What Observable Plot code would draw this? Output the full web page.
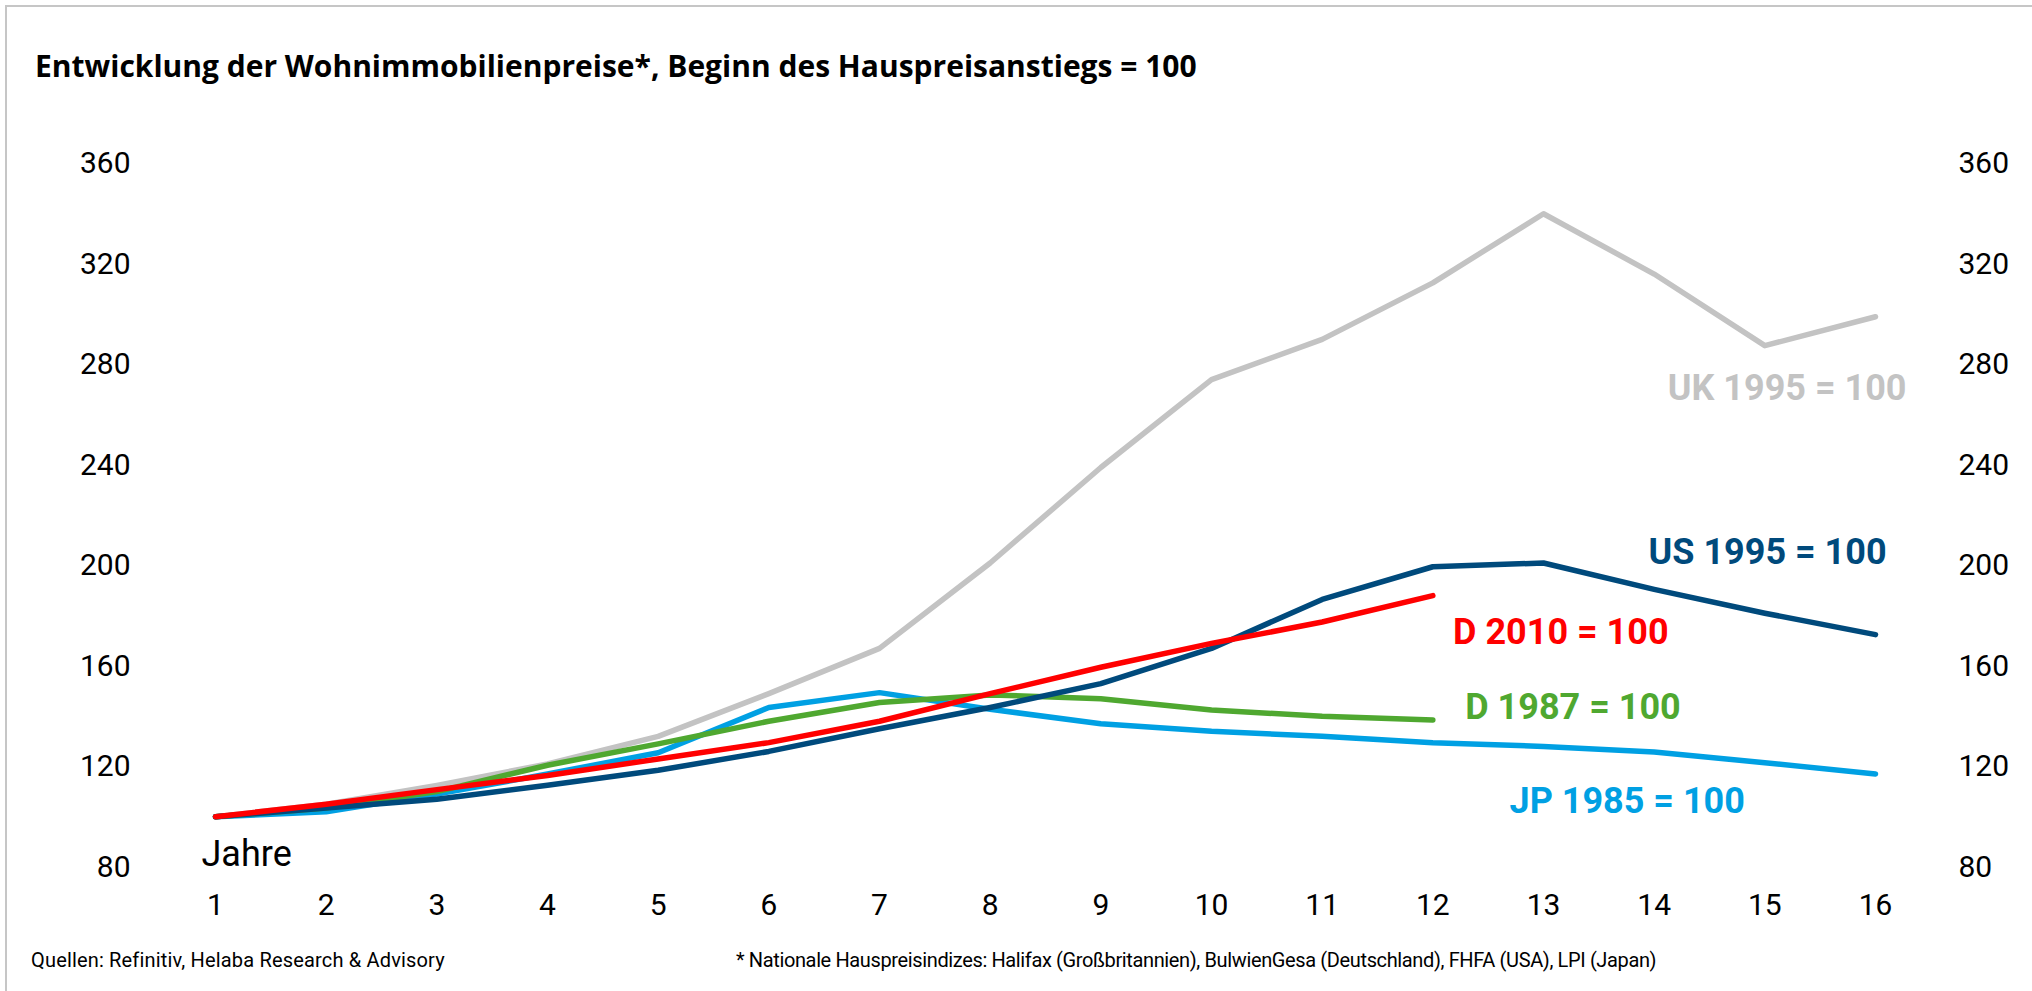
<!DOCTYPE html>
<html>
<head>
<meta charset="utf-8">
<script src="https://cdn.jsdelivr.net/npm/d3@7"></script>
<script src="https://cdn.jsdelivr.net/npm/@observablehq/plot@0.6"></script>
<style>
  html, body { margin: 0; padding: 0; background: #fff; }
  #page { position: relative; width: 2032px; height: 991px; overflow: hidden; background: #fff; font-family: Roboto, "Open Sans", sans-serif; }
  #frame { position: absolute; left: 5px; top: 5px; right: -10px; bottom: -10px; border-top: 2.5px solid #c6c6c6; border-left: 2.5px solid #c6c6c6; }
  #title { position: absolute; left: 35px; top: 51px; font-family: "Open Sans", Roboto, sans-serif; font-size: 30px; line-height: 30px; font-weight: bold; color: #000; white-space: nowrap; }
  #chart { position: absolute; left: 0; top: 100px; }
  .foot { position: absolute; top: 950px; font-size: 20px; line-height: 20px; color: #000; white-space: nowrap; }
</style>
</head>
<body>
<div id="page">
  <div id="frame"></div>
  <div id="title">Entwicklung der Wohnimmobilienpreise*, Beginn des Hauspreisanstiegs = 100</div>
  <div id="chart"></div>
  <div class="foot" style="left:31px; letter-spacing:0.17px">Quellen: Refinitiv, Helaba Research &amp; Advisory</div>
  <div class="foot" id="foot2" style="left:736px; letter-spacing:-0.37px">* Nationale Hauspreisindizes: Halifax (Großbritannien), BulwienGesa (Deutschland), FHFA (USA), LPI (Japan)</div>
</div>
<script>
// Jahre (x categories)
const jahre = [1, 2, 3, 4, 5, 6, 7, 8, 9, 10, 11, 12, 13, 14, 15, 16];
const yTicks = [80, 120, 160, 200, 240, 280, 320, 360];

// Series values (index, start of house price rise = 100)
const uk1995 = [100, 105, 112.5, 121, 132, 149, 167, 201, 239, 274, 290, 312.5, 340, 316, 287.5, 299];
const jp1985 = [100, 102, 109, 117, 125.5, 143.5, 149.4, 142.8, 137, 134, 132, 129.5, 128, 125.8, 121.5, 117];
const d1987  = [100, 103.5, 110, 120.5, 129, 138, 145.5, 148.5, 147, 142.5, 140, 138.5];
const us1995 = [100, 103.5, 107, 112.5, 118.5, 126, 135, 143.5, 153, 167, 186.5, 199.5, 201, 190.5, 181, 172.5];
const d2010  = [100, 105, 110.8, 116.4, 123, 129.5, 138, 149, 159.5, 169, 177.5, 188];

const seriesNames = ["UK 1995 = 100", "JP 1985 = 100", "D 1987 = 100", "US 1995 = 100", "D 2010 = 100"];
const seriesColors = ["#c3c3c3", "#00a0e3", "#4fa830", "#004a7c", "#ff0000"];
const seriesValues = [uk1995, jp1985, d1987, us1995, d2010];

// Label anchors (data coordinates: year, index value) for the end-of-line labels
const labelNames = ["UK 1995 = 100", "US 1995 = 100", "D 2010 = 100", "D 1987 = 100", "JP 1985 = 100"];
const labelX = [16.28, 16.1, 14.13, 14.24, 14.82];
const labelY = [270.6, 205.2, 173.2, 143.3, 106.1];

const rows = seriesValues.flatMap((vals, i) =>
  vals.map((v, j) => ({series: seriesNames[i], jahr: jahre[j], wert: v}))
);
const labels = labelNames.map((n, i) => ({series: n, x: labelX[i], y: labelY[i]}));

const chart = Plot.plot({
  width: 2032,
  height: 835,
  marginLeft: 215,
  marginRight: 157,
  marginTop: 63,
  marginBottom: 68.5,
  style: {fontFamily: "Roboto, 'Open Sans', sans-serif", fontSize: "30px", color: "#000", background: "transparent", overflow: "visible"},
  x: {domain: [1, 16]},
  y: {domain: [80, 360]},
  color: {domain: seriesNames, range: seriesColors},
  marks: [
    Plot.axisX({ticks: jahre, tickSize: 0, tickPadding: 27, label: null, tickFormat: d => String(d), fontSize: 30}),
    Plot.axisY({anchor: "left", ticks: yTicks, tickSize: 0, tickPadding: 85, label: null, fontSize: 30}),
    Plot.axisY({anchor: "right", ticks: yTicks, tickSize: 0, tickPadding: 83, label: null, fontSize: 30}),
    Plot.line(rows, {x: "jahr", y: "wert", z: "series", stroke: "series", strokeWidth: 5.5, strokeLinecap: "round", strokeLinejoin: "round"}),
    Plot.text(labels, {x: "x", y: "y", text: "series", fill: "series", textAnchor: "end", fontSize: 36, fontWeight: "bold"}),
    Plot.text([{x: 1, y: 84.8, t: "Jahre"}], {x: "x", y: "y", text: "t", textAnchor: "start", dx: -14, fontSize: 36, fill: "#000"})
  ]
});
document.getElementById("chart").appendChild(chart);
</script>
</body>
</html>
